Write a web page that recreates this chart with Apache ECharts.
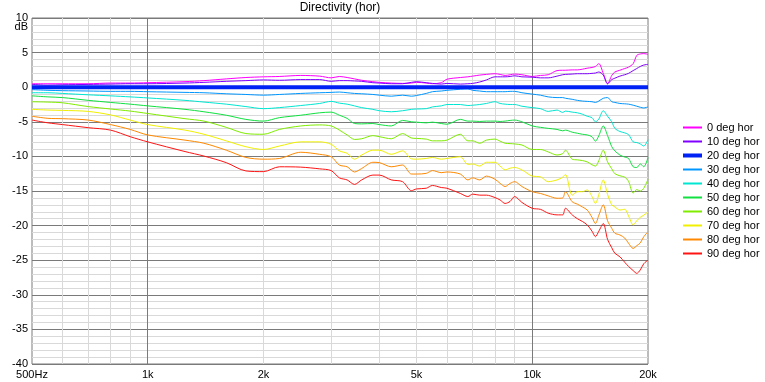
<!DOCTYPE html>
<html><head><meta charset="utf-8">
<script src="https://cdn.jsdelivr.net/npm/echarts@6/dist/echarts.min.js"></script>
<style>html,body{margin:0;padding:0;background:#fff}#c{width:765px;height:382px}</style>
</head><body><div id="c"></div>
<script>
const freqs = [500,550,600,700,800,900,1000,
  1250,1400,1600,1800,2000,
  2200,2500,2800,3000,3150,
  3300,3450,3600,3850,4000,
  4300,4600,4850,5000,5300,
  5500,5800,6000,6500,6800,
  7000,7300,7600,8000,8250,
  8500,8760,9000,9400,10000,
  10500,11000,11600,12000,12200,
  12700,13100,13500,13900,14300,
  14600,14900,15300,15700,16100,
  16400,16900,17400,17800,18300,
  18700,19100,19500,20000];

const seriesNames = ['0 deg hor','10 deg hor','20 deg hor','30 deg hor','40 deg hor','50 deg hor','60 deg hor','70 deg hor','80 deg hor','90 deg hor'];

const deg0 = [0.5,0.5,0.5,0.5,0.6,0.6,0.65,
  0.8,0.95,1.2,1.4,1.5,
  1.55,1.7,1.6,1.35,1.55,
  1.4,1.2,1.0,0.8,0.7,
  0.6,0.55,0.6,0.7,0.6,
  0.5,0.65,1.15,1.4,1.5,
  1.6,1.75,1.85,1.95,1.85,
  1.7,1.8,1.9,1.8,1.55,
  1.7,1.8,2.4,2.45,2.45,
  2.5,2.5,2.6,2.75,2.85,
  3.0,3.4,2.0,0.5,1.7,
  2.2,2.45,2.7,2.9,3.4,
  4.6,4.8,4.85,4.75];
const deg10 = [0.4,0.3,0.35,0.4,0.45,0.5,0.5,
  0.6,0.7,0.85,0.95,1.05,
  1.0,1.1,1.1,0.85,0.95,
  0.95,0.9,0.85,0.65,0.6,
  0.5,0.5,0.7,0.8,0.65,
  0.55,0.45,0.55,0.45,0.5,
  0.55,0.75,1.05,1.5,1.5,
  1.5,1.55,1.65,1.5,1.45,
  1.35,1.35,1.6,1.8,1.85,
  1.9,1.95,1.95,1.95,2.0,
  2.05,2.2,1.75,0.5,1.1,
  1.3,1.6,1.8,2.0,2.4,
  2.7,3.0,3.2,3.3];
const deg20 = [0,0,0,0,0,0,0,
  0,0,0,0,0,
  0,0,0,0,0,
  0,0,0,0,0,
  0,0,0,0,0,
  0,0,0,0,0,
  0,0,0,0,0,
  0,0,0,0,0,
  0,0,0,0,0,
  0,0,0,0,0,
  0,0,0,0,0,
  0,0,0,0,0,
  0,0,0,0];
const deg30 = [-0.35,-0.45,-0.5,-0.55,-0.6,-0.6,-0.65,
  -0.75,-0.8,-0.95,-1.05,-1.15,
  -1.05,-0.9,-0.8,-0.75,-0.7,
  -0.8,-0.9,-0.95,-1.05,-1.15,
  -1.3,-1.15,-1.3,-1.2,-0.9,
  -0.65,-0.55,-0.45,-0.3,-0.25,
  -0.45,-0.55,-0.65,-0.65,-0.65,
  -0.65,-0.6,-0.6,-0.8,-1.0,
  -1.15,-1.4,-1.5,-1.5,-1.6,
  -1.75,-1.9,-2.0,-2.05,-2.1,
  -2.2,-2.0,-1.6,-1.5,-2.1,
  -2.2,-2.35,-2.4,-2.45,-2.6,
  -2.75,-2.9,-3.0,-2.85];
const deg40 = [-0.8,-0.8,-0.9,-1.1,-1.25,-1.4,-1.55,
  -1.9,-2.15,-2.45,-2.8,-3.1,
  -2.95,-2.65,-2.35,-2.05,-2.3,
  -2.45,-2.7,-2.95,-3.2,-3.4,
  -3.55,-3.4,-3.2,-3.15,-3.1,
  -2.85,-2.7,-2.5,-2.5,-2.65,
  -2.6,-2.5,-2.35,-2.1,-2.35,
  -2.45,-2.5,-2.5,-2.75,-2.95,
  -3.1,-3.5,-3.3,-3.65,-3.45,
  -3.6,-3.7,-3.9,-4.2,-4.4,
  -5.0,-4.6,-3.4,-4.2,-5.0,
  -5.95,-6.4,-6.6,-6.85,-7.9,
  -8.0,-8.2,-8.5,-7.6];
const deg50 = [-1.25,-1.4,-1.5,-1.9,-2.2,-2.45,-2.7,
  -3.2,-3.55,-4.05,-4.65,-4.9,
  -4.4,-4.05,-3.7,-3.6,-4.05,
  -4.5,-5.25,-5.3,-5.25,-5.4,
  -5.6,-4.8,-5.0,-5.05,-5.15,
  -5.05,-5.25,-5.35,-4.65,-4.9,
  -4.9,-4.95,-4.9,-4.9,-4.95,
  -4.9,-4.8,-4.75,-5.0,-5.6,
  -5.8,-5.95,-6.1,-6.3,-6.2,
  -6.5,-6.65,-6.8,-6.9,-7.15,
  -7.8,-7.0,-5.6,-7.0,-8.6,
  -9.2,-9.8,-10.1,-10.3,-11.5,
  -11.6,-11.1,-11.5,-10.15];
const deg60 = [-2.1,-2.15,-2.25,-2.8,-3.15,-3.45,-3.8,
  -4.55,-4.9,-5.8,-6.7,-6.8,
  -6.1,-5.6,-5.45,-5.6,-6.2,
  -6.9,-7.55,-7.45,-7.0,-7.15,
  -7.45,-6.7,-7.35,-7.4,-7.5,
  -7.75,-7.75,-7.65,-6.8,-7.75,
  -7.75,-8.1,-7.65,-7.5,-7.8,
  -8.1,-8.15,-8.2,-8.35,-9.0,
  -9.0,-9.35,-9.8,-9.6,-9.1,
  -10.4,-10.5,-10.6,-10.8,-11.2,
  -11.4,-10.6,-9.1,-10.8,-11.8,
  -12.5,-12.8,-13.0,-13.6,-15.3,
  -14.8,-15.0,-14.6,-13.3];
const deg70 = [-3.2,-3.3,-3.35,-3.5,-4.0,-4.75,-5.4,
  -6.2,-6.8,-7.75,-8.6,-9.0,
  -8.5,-7.9,-7.9,-8.25,-9.2,
  -9.55,-10.4,-9.8,-9.1,-9.1,
  -9.7,-9.2,-10.35,-10.4,-10.3,
  -10.15,-10.4,-10.3,-10.05,-11.15,
  -11.1,-11.4,-10.85,-10.85,-11.4,
  -11.95,-11.7,-11.6,-11.95,-12.85,
  -12.95,-13.65,-13.4,-13.0,-12.6,
  -15.6,-15.1,-15.1,-14.85,-15.8,
  -16.8,-15.5,-13.4,-15.5,-17.0,
  -17.3,-17.75,-17.65,-18.6,-19.9,
  -19.3,-18.8,-18.5,-18.0];
const deg80 = [-4.2,-4.5,-4.55,-4.75,-5.4,-6.1,-6.9,
  -7.65,-8.1,-9.1,-10.15,-10.4,
  -10.3,-9.4,-9.7,-10.05,-11.25,
  -11.5,-12.25,-11.75,-10.85,-10.9,
  -11.5,-11.25,-12.55,-12.55,-12.45,
  -12.05,-12.35,-12.25,-12.55,-13.4,
  -13.1,-13.4,-12.85,-13.3,-13.9,
  -14.35,-13.9,-13.65,-14.35,-15.1,
  -15.35,-15.7,-16.05,-16.0,-15.1,
  -16.55,-16.9,-17.3,-17.75,-18.8,
  -19.7,-18.5,-17.0,-19.3,-20.4,
  -21.1,-21.35,-21.8,-22.55,-23.3,
  -22.9,-22.5,-21.6,-20.9];
const deg90 = [-4.75,-5.15,-5.4,-5.85,-6.2,-7.15,-7.9,
  -9.3,-9.95,-10.9,-12.1,-12.2,
  -11.5,-11.55,-11.8,-12.05,-13.1,
  -13.4,-14.05,-13.4,-12.7,-12.7,
  -13.4,-13.65,-14.95,-14.7,-14.6,
  -14.2,-14.5,-14.6,-15.35,-15.8,
  -15.45,-15.6,-15.6,-15.95,-16.3,
  -16.8,-16.5,-15.8,-16.65,-17.5,
  -17.65,-18.2,-18.45,-18.45,-17.5,
  -18.45,-19.0,-19.4,-19.9,-20.8,
  -21.6,-20.8,-19.7,-22.0,-23.2,
  -24.0,-24.5,-25.3,-25.9,-26.5,
  -26.9,-26.4,-25.5,-25.0];

const xTickValues = [500,1000,2000,5000,10000,20000];
const xTickLabels = ['500Hz','1k','2k','5k','10k','20k'];
const xMajorGrid = [1000,10000];
const xMinorGrid = [600,700,800,900,2000,3000,4000,5000,6000,7000,8000,9000];
const yTicks = {min:-40, max:10, step:5};

const allValues = [deg0,deg10,deg20,deg30,deg40,deg50,deg60,deg70,deg80,deg90];
const colors = ['#ff00ff','#8000ff','#0022f5','#0096ff','#00e6d2','#10e040','#80ec00','#f0f000','#ff8800','#ff1414'];
const FONT = '"Liberation Sans", Arial, sans-serif';

const chart = echarts.init(document.getElementById('c'), null, {renderer:'canvas'});
const series = seriesNames.map((name, k) => ({
  name: name,
  type: 'line',
  xAxisIndex: 0,
  yAxisIndex: 0,
  symbol: 'none',
  showSymbol: false,
  smooth: 0.3,
  z: k === 2 ? 3 : 2,
  color: colors[k],
  lineStyle: {color: colors[k], width: k === 2 ? 4 : 1},
  emphasis: {disabled: true},
  data: freqs.map((f, i) => [f, allValues[k][i]])
}));

chart.setOption({
  animation: false,
  backgroundColor: '#ffffff',
  grid: {left: 32, right: 117, top: 18, bottom: 18, show: true, borderColor: '#7a7a7a', borderWidth: 1},
  graphic: [
    {type: 'text', x: 340, y: 8, style: {text: 'Directivity (hor)', align: 'center', verticalAlign: 'middle', font: '12px ' + FONT, fill: '#000'}},
    {type: 'text', x: 28, y: 27, style: {text: 'dB', align: 'right', verticalAlign: 'middle', font: '11px ' + FONT, fill: '#000'}}
  ],
  xAxis: [
    {type: 'log', logBase: 10, min: 500, max: 20000, position: 'bottom',
     axisLine: {show: false}, axisTick: {show: false, customValues: xMajorGrid},
     splitLine: {show: true, lineStyle: {color: '#7a7a7a', width: 1}},
     axisLabel: {customValues: xTickValues, margin: 5, fontSize: 11, color: '#000', fontFamily: FONT,
       formatter: v => { const i = xTickValues.indexOf(Math.round(v)); return i >= 0 ? xTickLabels[i] : ''; }}},
    {type: 'log', logBase: 10, min: 500, max: 20000, position: 'top',
     axisLine: {show: false}, axisTick: {show: false, customValues: xMinorGrid},
     splitLine: {show: true, lineStyle: {color: '#d9d9d9', width: 1}},
     axisLabel: {show: false}}
  ],
  yAxis: {type: 'value', min: yTicks.min, max: yTicks.max, interval: yTicks.step,
    axisLine: {show: false}, axisTick: {show: false},
    axisLabel: {margin: 4, fontSize: 11, color: '#000', fontFamily: FONT},
    splitLine: {show: true, lineStyle: {color: '#7a7a7a', width: 1}},
    minorTick: {show: false, splitNumber: 5},
    minorSplitLine: {show: true, lineStyle: {color: '#d9d9d9', width: 1}}},
  legend: {orient: 'vertical', left: 676, top: 117, itemWidth: 19, itemHeight: 11, itemGap: 3,
    itemStyle: {opacity: 0, borderWidth: 0},
    textStyle: {fontSize: 11, color: '#000', fontFamily: FONT},
    data: seriesNames.map((n, k) => k === 2 ? {name: n, lineStyle: {width: 4}} : {name: n})},
  series: series
});
</script>
</body></html>
